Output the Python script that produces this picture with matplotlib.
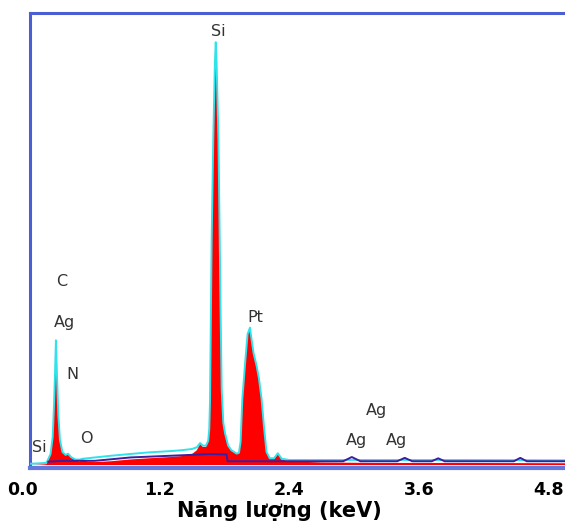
import matplotlib
matplotlib.use("Agg")
import matplotlib.pyplot as plt
import matplotlib.transforms as mtransforms

# spectre EDX lu tu hinh (keV, so dem tuong doi; dinh Si = 100)
kev = [0.00, 0.15, 0.165, 0.19, 0.21, 0.222, 0.232, 0.24, 0.25, 0.262,
       0.277, 0.30, 0.33, 0.352, 0.38, 0.42, 0.46, 0.49, 0.53, 0.60,
       0.75, 0.92, 1.10, 1.30, 1.40, 1.50, 1.545, 1.575, 1.60, 1.63,
       1.65, 1.66, 1.667, 1.676, 1.682, 1.697, 1.712, 1.72, 1.728, 1.745,
       1.757, 1.765, 1.775, 1.79, 1.806, 1.835, 1.865, 1.914, 1.935, 1.95,
       1.966, 1.99, 2.015, 2.037, 2.05, 2.07, 2.099, 2.12, 2.145, 2.165,
       2.19, 2.22, 2.26, 2.295, 2.33, 2.40, 2.70, 3.20, 4.00, 5.30]
counts = [0.0, 0.2, 1.0, 2.5, 6.5, 14, 22, 29.5, 21, 12,
          6, 3.0, 2.3, 2.6, 1.8, 1.2, 0.8, 1.4, 0.8, 0.7,
          0.9, 1.3, 1.6, 1.9, 2.1, 2.6, 3.5, 5.0, 4.3, 4.3,
          5.5, 8.5, 15, 38, 53, 77, 95, 100, 95, 77,
          53, 36, 18, 10, 7.5, 4.5, 3.4, 2.6, 2.8, 5.5,
          15.5, 23.5, 31, 32.5, 30, 26.5, 23.4, 20.5, 15.5, 9.5,
          3.0, 1.5, 1.5, 2.7, 1.3, 0.9, 0.6, 0.5, 0.5, 0.4]
# duong vien cyan (trung voi pho o cac dinh, cao hon o vung nen)
outline = [0.3, 0.5, 1.2, 2.6, 6.6, 14, 22, 29.5, 21, 12,
           6, 3.1, 2.4, 2.7, 1.9, 1.3, 1.3, 1.5, 1.6, 1.8,
           2.2, 2.6, 3.0, 3.3, 3.5, 3.8, 4.2, 5.2, 4.6, 4.6,
           5.7, 8.5, 15, 38, 53, 77, 95, 100, 95, 77,
           53, 36, 18, 10, 7.5, 4.6, 3.5, 2.7, 2.9, 5.5,
           15.5, 23.5, 31, 32.5, 30, 26.5, 23.4, 20.5, 15.5, 9.5,
           3.1, 1.6, 1.6, 2.8, 1.5, 1.2, 1.2, 1.2, 1.2, 1.1]

# duong nen (background) mau tim
bg_kev = [0.17, 0.30, 0.45, 0.60, 0.93, 1.667, 1.82, 1.83, 2.90, 2.98,
          3.06, 3.40, 3.47, 3.54, 3.72, 3.78, 3.84, 4.48, 4.54, 4.60, 5.30]
bg_counts = [0.8, 1.0, 1.0, 1.0, 1.8, 2.6, 2.5, 0.9, 0.9, 1.9,
             0.9, 0.9, 1.7, 0.9, 0.9, 1.6, 0.9, 0.9, 1.7, 0.9, 0.9]

# nhan cac nguyen to
lbl_text = ["Si", "C", "Ag", "N", "Si", "O", "Pt", "Ag", "Ag", "Ag"]
lbl_x = [1.745, 0.295, 0.315, 0.39, 0.09, 0.52, 2.09, 3.21, 3.02, 3.39]
lbl_y = [102.5, 43.5, 33.6, 21.5, 4.2, 6.3, 35.0, 13.0, 5.9, 5.9]

xticks = [0.0, 1.2, 2.4, 3.6, 4.8]
xticklabels = ["0.0", "1.2", "2.4", "3.6", "4.8"]

fig = plt.figure(figsize=(5.65, 5.28), dpi=100)
ax = fig.add_axes([0.0531, 0.1136, 1.0088, 0.8617])

ax.fill_between(kev, 0, counts, color="#ff0000", lw=0, zorder=2)
ax.plot(kev, outline, color="#30e2ea", lw=1.4, zorder=3)
ax.plot(bg_kev, bg_counts, color="#3a1fa0", lw=1.4, zorder=4)

for t, x, y in zip(lbl_text, lbl_x, lbl_y):
    ax.text(x, y, t, ha="center", va="center", fontsize=11.5, color="#333333")

ax.set_xlim(0, 5.278)
ax.set_ylim(-0.7, 106.9)
ax.set_yticks([])
ax.set_xticks(xticks)
ax.set_xticklabels(xticklabels, fontsize=12.5, fontweight="bold")
ax.tick_params(axis="x", length=0, pad=9)

# nhan "0.0" hoi lech trai so voi khung
lab0 = ax.get_xticklabels()[0]
lab0.set_transform(lab0.get_transform() +
                   mtransforms.ScaledTranslation(-0.08, 0, fig.dpi_scale_trans))

for s in ax.spines.values():
    s.set_color("#4a60d2")
    s.set_linewidth(2.2)
ax.spines["bottom"].set_color("#6478e0")
ax.spines["bottom"].set_linewidth(3)

ax.set_xlabel("Năng lượng (keV)", fontsize=15, fontweight="bold")
ax.xaxis.set_label_coords(0.437, -0.072)

fig.savefig("out.png", dpi=100)
